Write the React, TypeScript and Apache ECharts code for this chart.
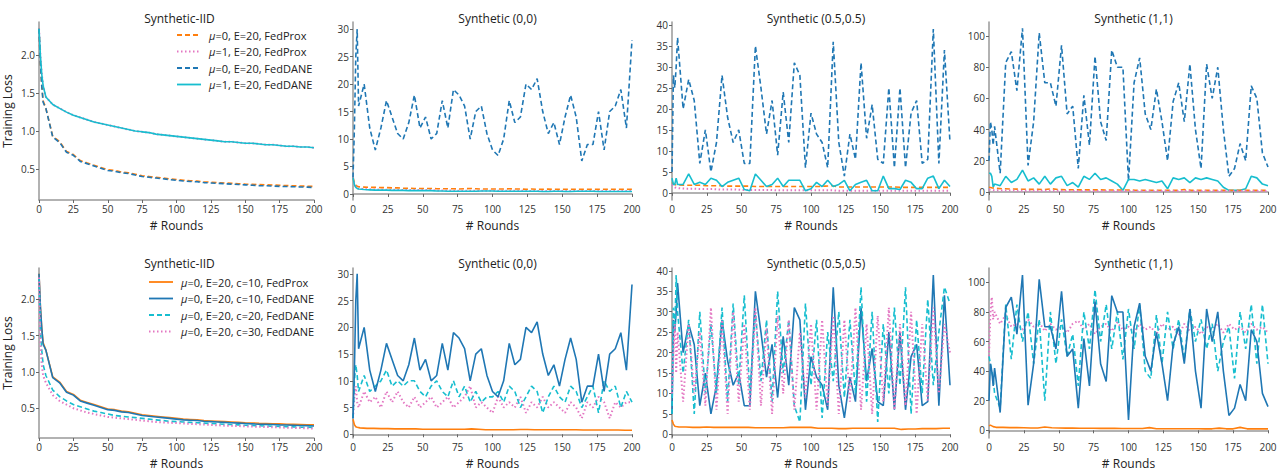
import { useEffect, useRef } from 'react';
import * as echarts from 'echarts';

// x grids: fine for noisy curves, coarse for smooth ones
const fineRounds = [0, 1, 2, 3, 4, 8, 12, 16, 20, 24, 28, 32, 36, 40, 44, 48, 52, 56, 60, 64, 68, 72, 76, 80, 84, 88, 92, 96, 100, 104, 108, 112, 116, 120, 124, 128, 132, 136, 140, 144, 148, 152, 156, 160, 164, 168, 172, 176, 180, 184, 188, 192, 196, 200];
const coarseRounds = [0, 1, 2, 3, 5, 10, 15, 20, 25, 30, 35, 40, 45, 50, 55, 60, 65, 70, 75, 80, 85, 90, 95, 100, 105, 110, 115, 120, 125, 130, 135, 140, 145, 150, 155, 160, 165, 170, 175, 180, 185, 190, 195, 200];

const titles = ['Synthetic-IID', 'Synthetic (0,0)', 'Synthetic (0.5,0.5)', 'Synthetic (1,1)'];

// Synthetic-IID (coarse)
const iidProxMu0 = [2.35, 1.9, 1.6, 1.4, 1.3, 0.93, 0.86, 0.73, 0.69, 0.61, 0.58, 0.55, 0.52, 0.49, 0.48, 0.46, 0.45, 0.43, 0.41, 0.4, 0.39, 0.38, 0.37, 0.36, 0.35, 0.345, 0.34, 0.33, 0.325, 0.32, 0.315, 0.31, 0.305, 0.3, 0.297, 0.293, 0.29, 0.287, 0.284, 0.28, 0.278, 0.275, 0.272, 0.27];
const iidDaneMu0 = [2.35, 1.9, 1.6, 1.38, 1.3, 0.92, 0.85, 0.72, 0.68, 0.6, 0.57, 0.54, 0.51, 0.48, 0.47, 0.45, 0.44, 0.42, 0.4, 0.39, 0.38, 0.37, 0.36, 0.35, 0.34, 0.335, 0.33, 0.32, 0.315, 0.31, 0.305, 0.3, 0.295, 0.29, 0.285, 0.28, 0.278, 0.275, 0.27, 0.268, 0.265, 0.262, 0.26, 0.255];
const iidMu1 = [2.35, 2.0, 1.75, 1.6, 1.45, 1.35, 1.3, 1.25, 1.21, 1.18, 1.15, 1.12, 1.1, 1.08, 1.06, 1.04, 1.02, 1.0, 0.99, 0.98, 0.96, 0.95, 0.94, 0.93, 0.92, 0.91, 0.9, 0.89, 0.88, 0.87, 0.86, 0.86, 0.85, 0.84, 0.84, 0.83, 0.82, 0.82, 0.81, 0.8, 0.8, 0.79, 0.79, 0.78];
const iidC20 = [2.3, 1.6, 1.3, 1.1, 0.95, 0.75, 0.66, 0.6, 0.55, 0.52, 0.49, 0.46, 0.44, 0.42, 0.4, 0.39, 0.38, 0.37, 0.36, 0.35, 0.34, 0.33, 0.32, 0.315, 0.31, 0.305, 0.3, 0.295, 0.29, 0.285, 0.28, 0.275, 0.27, 0.265, 0.262, 0.258, 0.255, 0.252, 0.249, 0.246, 0.243, 0.24, 0.238, 0.235];
const iidC30 = [2.3, 1.4, 1.1, 0.95, 0.85, 0.68, 0.6, 0.55, 0.5, 0.47, 0.44, 0.42, 0.4, 0.38, 0.37, 0.36, 0.35, 0.34, 0.33, 0.32, 0.31, 0.305, 0.3, 0.295, 0.29, 0.285, 0.28, 0.275, 0.27, 0.265, 0.26, 0.257, 0.254, 0.25, 0.247, 0.244, 0.241, 0.238, 0.235, 0.232, 0.23, 0.227, 0.224, 0.22];

// Synthetic (0,0)
const s00DaneMu0 = [3, 12, 25, 30, 16, 20, 12, 8, 12, 17, 14, 11, 10, 13, 18, 12, 14, 10, 11, 17, 12, 19, 18, 16, 10, 15, 16, 11, 8, 7, 10, 17, 13, 14, 20, 19, 21, 15, 11, 13, 9, 14, 18, 14, 6, 9, 9, 15, 8, 15, 16, 19, 12, 28];
const s00ProxMu0 = [3, 2, 1.6, 1.4, 1.3, 1.25, 1.2, 1.2, 1.15, 1.15, 1.1, 1.1, 1.05, 1.05, 1.0, 1.0, 1.0, 1.0, 0.95, 0.95, 0.95, 0.95, 0.9, 0.95, 1.0, 0.95, 0.9, 0.9, 0.9, 0.9, 0.9, 0.95, 0.9, 0.9, 0.85, 0.9, 0.85, 0.85, 0.9, 0.85, 0.85, 0.85, 0.85, 0.85, 0.85, 0.85, 0.85, 0.85, 0.85, 0.85, 0.85, 0.85, 0.85, 0.85];
const s00ProxMu1 = [3, 1.8, 1.3, 1.1, 1.0, 0.9, 0.85, 0.8, 0.8, 0.75, 0.75, 0.75, 0.7, 0.7, 0.7, 0.7, 0.7, 0.7, 0.65, 0.65, 0.65, 0.6, 0.6, 0.6, 0.6, 0.6, 0.6, 0.6, 0.6, 0.6, 0.6, 0.6, 0.6, 0.6, 0.55, 0.55, 0.55, 0.55, 0.55, 0.55, 0.55, 0.55, 0.55, 0.55, 0.55, 0.55, 0.55, 0.55, 0.55, 0.55, 0.55, 0.55, 0.55, 0.55];
const s00DaneMu1 = [3, 1.7, 1.2, 1.0, 0.9, 0.8, 0.75, 0.7, 0.7, 0.7, 0.65, 0.65, 0.65, 0.6, 0.6, 0.6, 0.6, 0.6, 0.55, 0.55, 0.5, 0.5, 0.5, 0.5, 0.5, 0.5, 0.55, 0.55, 0.55, 0.5, 0.5, 0.5, 0.5, 0.5, 0.5, 0.5, 0.5, 0.45, 0.45, 0.5, 0.5, 0.45, 0.45, 0.5, 0.5, 0.5, 0.5, 0.45, 0.45, 0.45, 0.45, 0.45, 0.45, 0.45];
const s00ProxC10 = [2.8, 1.8, 1.4, 1.3, 1.2, 1.1, 1.1, 1.05, 1.05, 1.0, 1.0, 1.0, 1.0, 0.95, 0.95, 0.95, 0.95, 0.95, 0.95, 0.95, 1.0, 0.95, 0.85, 0.85, 0.85, 0.85, 0.85, 0.9, 0.9, 0.85, 0.85, 0.85, 0.85, 0.85, 0.85, 0.85, 0.8, 0.8, 0.8, 0.8, 0.8, 0.8, 0.75, 0.75];
const s00DaneC20 = [3, 10, 13, 11, 8, 11, 8, 9, 10, 12, 9, 10, 9, 10, 10, 8, 7, 9, 10, 8, 7, 10, 7, 9, 6, 8, 6, 7, 7, 8, 6, 9, 8, 5, 7, 9, 8, 4, 7, 9, 7, 6, 9, 8, 5, 7, 9, 4, 10, 8, 9, 5, 8, 6];
const s00DaneC30 = [3, 7, 9, 6, 5, 8, 6, 7, 5, 8, 6, 8, 6, 5, 7, 5, 6, 7, 5, 6, 7, 5, 6, 7, 9, 5, 6, 5, 4, 7, 5, 6, 5, 7, 4, 6, 5, 7, 5, 6, 5, 4, 6, 5, 3, 6, 5, 7, 6, 3, 6, 5, 6, 6];

// Synthetic (0.5,0.5)
const s55DaneMu0 = [5, 28, 25, 30, 37, 20, 27, 22, 7, 15, 5, 12, 28, 18, 12, 15, 7, 7, 35, 25, 14, 22, 9, 24, 12, 31, 28, 6, 19, 14, 12, 6, 36, 12, 4, 14, 8, 31, 13, 21, 8, 7, 25, 6, 25, 6, 19, 22, 7, 8, 39, 7, 34, 12];
const s55DaneMu1 = [3.5, 2, 2, 3.5, 2, 2, 4.5, 2, 2.5, 2, 3.5, 3, 1.5, 2.5, 3, 3.5, 0.8, 0.5, 4.5, 3, 1.5, 2, 3.5, 1.5, 3, 3, 3, 0.5, 1, 2.5, 1.5, 3, 1.5, 2, 3, 0.5, 2, 2.5, 3, 0.5, 0.5, 4, 1, 1, 0.8, 3, 2.5, 1, 1, 3.5, 4, 1, 3, 1.5];
const s55ProxMu0 = [2.5, 2.2, 2.0, 1.9, 1.9, 1.8, 1.8, 1.8, 1.7, 1.7, 1.7, 1.6, 1.6, 1.6, 1.6, 1.5, 1.5, 1.5, 1.5, 1.5, 1.5, 1.5, 1.5, 1.5, 1.5, 1.6, 1.7, 1.4, 1.4, 1.4, 1.4, 1.4, 1.4, 1.4, 1.4, 1.4, 1.3, 1.3, 1.3, 1.3, 1.3, 1.3, 1.3, 1.3];
const s55ProxMu1 = [2, 1.6, 1.3, 1.2, 1.1, 1.0, 1.0, 0.9, 0.9, 0.9, 0.8, 0.8, 0.8, 0.7, 0.7, 0.7, 0.7, 0.7, 0.6, 0.6, 0.6, 0.6, 0.6, 0.6, 0.6, 0.6, 0.6, 0.5, 0.5, 0.5, 0.5, 0.5, 0.5, 0.5, 0.5, 0.5, 0.5, 0.5, 0.5, 0.5, 0.5, 0.5, 0.5, 0.5];
const s55ProxC10 = [3.5, 2.5, 2.0, 1.9, 1.8, 1.8, 1.7, 1.7, 1.8, 1.7, 1.7, 1.7, 1.7, 1.7, 1.7, 1.6, 1.6, 1.6, 1.6, 1.6, 1.7, 1.7, 1.7, 1.7, 1.5, 1.5, 1.5, 1.4, 1.4, 1.5, 1.5, 1.5, 1.5, 1.5, 1.5, 1.5, 1.2, 1.3, 1.3, 1.4, 1.4, 1.4, 1.5, 1.5];
const s55DaneC20 = [5, 31, 25, 39, 30, 15, 28, 5, 30, 10, 27, 10, 31, 8, 32, 12, 34, 10, 30, 13, 28, 8, 35, 15, 28, 7, 3, 32, 12, 28, 4, 25, 13, 30, 9, 28, 10, 36, 8, 30, 3, 27, 10, 31, 12, 36, 5, 28, 10, 33, 12, 25, 36, 32];
const s55DaneC30 = [10, 20, 27, 15, 25, 8, 27, 10, 25, 7, 31, 6, 28, 5, 30, 8, 27, 6, 31, 7, 26, 5, 29, 10, 28, 6, 25, 9, 27, 6, 28, 7, 29, 5, 28, 8, 31, 6, 27, 5, 29, 8, 31, 6, 27, 7, 30, 5, 27, 8, 31, 10, 27, 20];

// Synthetic (1,1)
const s11DaneMu0 = [20, 45, 40, 30, 42, 12, 83, 90, 65, 105, 17, 45, 102, 70, 70, 55, 94, 50, 55, 15, 62, 30, 87, 45, 33, 91, 80, 80, 7, 70, 86, 50, 40, 66, 45, 20, 58, 70, 45, 82, 40, 15, 82, 60, 80, 40, 10, 15, 31, 20, 68, 60, 25, 16];
const s11DaneMu1 = [12, 12, 10, 3, 5, 4, 10, 6, 8, 14, 7, 9, 5, 10, 5, 9, 10, 4, 6, 3, 10, 8, 12, 8, 9, 7, 5, 1, 8, 8, 7, 8, 7, 6, 7, 2, 9, 8, 9, 6, 9, 8, 9, 8, 7, 3, 1, 1, 1, 2, 10, 9, 5, 4];
const s11ProxMu0 = [3, 2.8, 2.6, 2.5, 2.3, 2.0, 1.9, 1.8, 1.7, 1.6, 1.6, 1.5, 2.0, 1.5, 1.4, 1.4, 1.3, 1.3, 1.3, 1.3, 1.2, 1.2, 1.2, 1.2, 1.1, 1.1, 1.1, 1.1, 1.1, 1.0, 1.0, 1.5, 1.0, 1.0, 1.0, 1.0, 1.0, 1.0, 1.0, 1.0, 1.0, 1.0, 1.0, 1.0];
const s11ProxMu1 = [1.5, 1.3, 1.2, 1.1, 1.0, 0.9, 0.9, 0.8, 0.8, 0.8, 0.7, 0.7, 0.7, 0.7, 0.6, 0.6, 0.6, 0.6, 0.6, 0.6, 0.5, 0.5, 0.5, 0.5, 0.5, 0.5, 0.5, 0.5, 0.5, 0.5, 0.5, 0.5, 0.5, 0.5, 0.5, 0.5, 0.5, 0.5, 0.5, 0.5, 0.5, 0.5, 0.5, 0.5];
const s11ProxC10 = [3, 3.5, 3, 2.5, 2, 2, 1.8, 1.8, 1.7, 1.6, 1.6, 2.2, 1.7, 1.6, 1.5, 1.5, 1.4, 1.4, 1.4, 1.3, 1.3, 1.3, 1.2, 1.2, 1.2, 1.2, 1.8, 1.1, 1.1, 1.1, 1.1, 1.1, 1.1, 1.1, 1.0, 1.0, 1.5, 1.0, 1.0, 2.0, 1.0, 1.0, 1.0, 1.0];
const s11DaneC20 = [50, 45, 40, 35, 25, 15, 85, 48, 85, 60, 80, 45, 75, 20, 80, 45, 75, 50, 65, 30, 80, 55, 95, 60, 85, 55, 80, 48, 82, 55, 85, 40, 35, 78, 45, 80, 55, 75, 48, 82, 60, 75, 55, 72, 40, 60, 70, 35, 80, 55, 85, 45, 85, 45];
const s11DaneC30 = [50, 80, 90, 75, 80, 72, 78, 70, 72, 68, 75, 70, 73, 67, 72, 68, 70, 66, 72, 74, 68, 72, 65, 70, 72, 67, 73, 68, 70, 66, 72, 68, 70, 65, 72, 68, 70, 64, 72, 67, 70, 65, 70, 68, 72, 66, 72, 68, 70, 66, 72, 68, 70, 66];

const ORANGE = '#ff7f0e';
const PINK = '#e377c2';
const BLUE = '#1f77b4';
const CYAN = '#17becf';
const FONT = 'Open Sans';

const topNames = ['μ=0, E=20, FedProx', 'μ=1, E=20, FedProx', 'μ=0, E=20, FedDANE', 'μ=1, E=20, FedDANE'];
const botNames = ['μ=0, E=20, c=10, FedProx', 'μ=0, E=20, c=10, FedDANE', 'μ=0, E=20, c=20, FedDANE', 'μ=0, E=20, c=30, FedDANE'];

const colLeft = [35, 353, 672, 989];
const colRight = [314, 632, 950, 1268];

const yRanges = [
  { min: 0.09, max: 2.44, ticks: [0.5, 1.0, 1.5, 2.0] },
  { min: -1.1, max: 31.3, ticks: [0, 5, 10, 15, 20, 25, 30] },
  { min: -1.7, max: 40.7, ticks: [0, 5, 10, 15, 20, 25, 30, 35, 40] },
  { min: -5.2, max: 109, ticks: [0, 20, 40, 60, 80, 100] },
  { min: 0.09, max: 2.43, ticks: [0.5, 1.0, 1.5, 2.0] },
  { min: -0.7, max: 31.1, ticks: [0, 5, 10, 15, 20, 25, 30] },
  { min: -0.9, max: 40.7, ticks: [0, 5, 10, 15, 20, 25, 30, 35, 40] },
  { min: -5.2, max: 109.7, ticks: [0, 20, 40, 60, 80, 100] },
];

const zip = (xs: number[], ys: number[]) => xs.map((x, i) => [x, ys[i]]);

const dash = [5, 3];
const dot = [1.5, 2.5];

export default function App() {
  const ref = useRef<HTMLDivElement>(null);

  useEffect(() => {
    document.body.style.margin = '0';
    if (!ref.current) return;
    const chart = echarts.init(ref.current, undefined, { renderer: 'svg' });

    const grids: any[] = [];
    const xAxes: any[] = [];
    const yAxes: any[] = [];
    const titleArr: any[] = [];
    for (let r = 0; r < 2; r++) {
      for (let c = 0; c < 4; c++) {
        const idx = r * 4 + c;
        const top = r === 0 ? 22 : 268;
        const bottom = r === 0 ? 200 : 446;
        grids.push({ left: colLeft[c], width: colRight[c] - colLeft[c], top, height: bottom - top });
        titleArr.push({
          text: titles[c],
          left: (colLeft[c] + colRight[c]) / 2,
          top: r === 0 ? 7 : 252,
          textAlign: 'center',
          textStyle: { fontFamily: FONT, fontSize: 12, fontWeight: 'normal', color: '#222' },
        });
        const axisLine = { show: true, lineStyle: { color: '#999', width: 1.5 } };
        xAxes.push({
          type: 'value', gridIndex: idx, min: 0, max: 200, interval: 25,
          name: '# Rounds', nameLocation: 'middle', nameGap: 19,
          nameTextStyle: { fontFamily: FONT, fontSize: 12, color: '#222' },
          axisLine, axisTick: { show: true, length: 3, lineStyle: { color: '#666' } },
          axisLabel: { fontFamily: FONT, fontSize: 10, color: '#333', margin: 4 },
          splitLine: { show: false },
        });
        const yr = yRanges[idx];
        yAxes.push({
          type: 'value', gridIndex: idx, min: yr.min, max: yr.max,
          name: c === 0 ? 'Training Loss' : '', nameLocation: 'middle', nameGap: 26,
          nameTextStyle: { fontFamily: FONT, fontSize: 12, color: '#222' },
          axisLine, axisTick: { show: true, length: 3, customValues: yr.ticks, lineStyle: { color: '#666' } },
          axisLabel: {
            fontFamily: FONT, fontSize: 10, color: '#333', margin: 4, customValues: yr.ticks,
            formatter: (v: number) => (c === 0 ? v.toFixed(1) : String(v)),
          },
          splitLine: { show: false },
        });
      }
    }

    const line = (idx: number, xs: number[], ys: number[], color: string, type: any, width = 1.6) => ({
      type: 'line', xAxisIndex: idx, yAxisIndex: idx, data: zip(xs, ys),
      symbol: 'none', lineStyle: { color, type, width }, itemStyle: { color },
    });

    const series = [
      // top row
      line(0, coarseRounds, iidProxMu0, ORANGE, dash),
      line(0, coarseRounds, iidMu1, PINK, dot, 2),
      line(0, coarseRounds, iidDaneMu0, BLUE, dash),
      line(0, coarseRounds, iidMu1, CYAN, 'solid'),
      line(1, fineRounds, s00DaneMu0, BLUE, dash),
      line(1, fineRounds, s00ProxMu0, ORANGE, dash),
      line(1, fineRounds, s00ProxMu1, PINK, dot, 2),
      line(1, fineRounds, s00DaneMu1, CYAN, 'solid'),
      line(2, fineRounds, s55DaneMu0, BLUE, dash),
      line(2, coarseRounds, s55ProxMu0, ORANGE, dash),
      line(2, coarseRounds, s55ProxMu1, PINK, dot, 2),
      line(2, fineRounds, s55DaneMu1, CYAN, 'solid'),
      line(3, fineRounds, s11DaneMu0, BLUE, dash),
      line(3, fineRounds, s11DaneMu1, CYAN, 'solid'),
      line(3, coarseRounds, s11ProxMu0, ORANGE, dash),
      line(3, coarseRounds, s11ProxMu1, PINK, dot, 2),
      // bottom row
      line(4, coarseRounds, iidProxMu0, ORANGE, 'solid'),
      line(4, coarseRounds, iidDaneMu0, BLUE, 'solid'),
      line(4, coarseRounds, iidC20, CYAN, dash),
      line(4, coarseRounds, iidC30, PINK, dot, 2),
      line(5, coarseRounds, s00ProxC10, ORANGE, 'solid'),
      line(5, fineRounds, s00DaneC30, PINK, dot, 2),
      line(5, fineRounds, s00DaneC20, CYAN, dash),
      line(5, fineRounds, s00DaneMu0, BLUE, 'solid'),
      line(6, coarseRounds, s55ProxC10, ORANGE, 'solid'),
      line(6, fineRounds, s55DaneMu0, BLUE, 'solid'),
      line(6, fineRounds, s55DaneC20, CYAN, dash),
      line(6, fineRounds, s55DaneC30, PINK, dot, 2),
      line(7, coarseRounds, s11ProxC10, ORANGE, 'solid'),
      line(7, fineRounds, s11DaneC30, PINK, dot, 2),
      line(7, fineRounds, s11DaneC20, CYAN, dash),
      line(7, fineRounds, s11DaneMu0, BLUE, 'solid'),
    ];

    // hand-drawn legends so the dash patterns show
    const legendItems = (names: string[], styles: [string, any][], x: number, y: number) =>
      names.flatMap((n, i) => [
        {
          type: 'line', shape: { x1: x, y1: y + i * 16.5, x2: x + 24, y2: y + i * 16.5 },
          style: { stroke: styles[i][0], lineWidth: 1.8, lineDash: styles[i][1] },
        },
        {
          type: 'text', x: x + 32, y: y + i * 16.5, style: {
            text: n.replace('μ', '{i|μ}'), fill: '#222', font: `11px "${FONT}"`, verticalAlign: 'middle',
            rich: { i: { fontFamily: FONT, fontSize: 11, fontStyle: 'italic', fill: '#222' } },
          },
        },
      ]);

    chart.setOption({
      animation: false,
      title: titleArr,
      grid: grids,
      xAxis: xAxes,
      yAxis: yAxes,
      series,
      graphic: [
        ...legendItems(topNames, [[ORANGE, dash], [PINK, dot], [BLUE, dash], [CYAN, null]], 177, 35),
        ...legendItems(botNames, [[ORANGE, null], [BLUE, null], [CYAN, dash], [PINK, dot]], 149, 282),
      ],
    });

    return () => chart.dispose();
  }, []);

  return <div ref={ref} style={{ width: 1282, height: 470 }} />;
}
